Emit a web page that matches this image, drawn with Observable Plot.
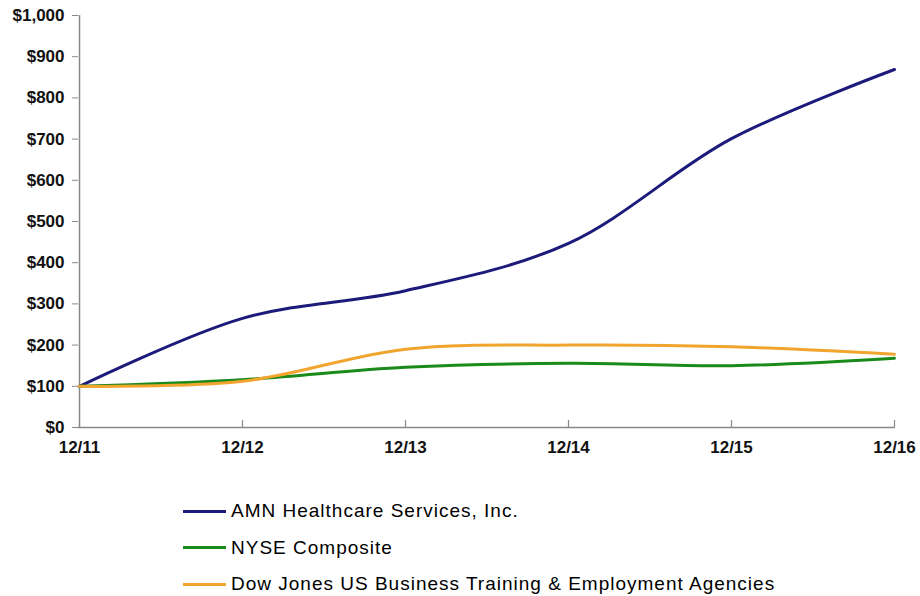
<!DOCTYPE html>
<html><head><meta charset="utf-8">
<script src="https://cdn.jsdelivr.net/npm/d3@7"></script>
<script src="https://cdn.jsdelivr.net/npm/@observablehq/plot@0.6"></script>
<style>
body{margin:0;background:#fff;font-family:"Liberation Sans",Arial,sans-serif;}
#chart svg{display:block;}
#legend{margin-top:28px;margin-left:183px;}
.row{display:flex;align-items:center;height:36.5px;font-size:19px;letter-spacing:1px;color:#000;}
.sw{width:43px;height:3px;margin-right:5px;}
</style></head><body>
<div id="chart"></div>
<div id="legend"></div>
<script>
const periods = ["12/11","12/12","12/13","12/14","12/15","12/16"];
const amn  = [100, 265, 332, 447, 701, 869];
const nyse = [100, 116, 146, 156, 150, 168];
const djus = [100, 112, 190, 200, 196, 178];
const seriesNames = ["AMN Healthcare Services, Inc.", "NYSE Composite", "Dow Jones US Business Training & Employment Agencies"];
const seriesColors = ["#1c1a7a", "#1a8a1a", "#f2a52e"];
const yTicks = d3.range(0, 1001, 100);

const seriesValues = [amn, nyse, djus];
const data = [];
seriesValues.forEach((vals, i) => vals.forEach((v, j) => data.push({series: seriesNames[i], period: periods[j], value: v})));

const chart = Plot.plot({
  width: 920,
  height: 465,
  marginTop: 15,
  marginBottom: 38,
  marginLeft: 78,
  marginRight: 25,
  style: {fontFamily: "'Liberation Sans', Arial, sans-serif", fontSize: "17px", fontWeight: "bold", background: "#fff"},
  x: {type: "point", domain: periods, padding: 0},
  y: {domain: [0, 1000]},
  color: {domain: seriesNames, range: seriesColors},
  marks: [
    Plot.axisY({ticks: yTicks, tickFormat: d => "$" + d3.format(",")(d), tickSize: 6, tickPadding: 8, stroke: "#888", fill: "#111", label: null, fontSize: 17, fontWeight: "bold"}),
    Plot.axisX({tickSize: 0, tickPadding: 13, fill: "#111", label: null, fontSize: 17, fontWeight: "bold"}),
    Plot.ruleX(periods.slice(1), {x: d => d, y1: 0, y2: 17, stroke: "#888", strokeWidth: 1.2}),
    Plot.ruleY([0], {stroke: "#888", strokeWidth: 1.5}),
    Plot.ruleX([periods[0]], {y1: 0, y2: 1000, stroke: "#888", strokeWidth: 1.5}),
    Plot.line(data, {x: "period", y: "value", z: "series", stroke: "series", curve: "catmull-rom", strokeWidth: 3})
  ]
});
document.getElementById("chart").appendChild(chart);

const legend = document.getElementById("legend");
seriesNames.forEach((n, i) => {
  const row = document.createElement("div");
  row.className = "row";
  const sw = document.createElement("div");
  sw.className = "sw";
  sw.style.background = seriesColors[i];
  const t = document.createElement("span");
  t.textContent = n;
  row.appendChild(sw); row.appendChild(t);
  legend.appendChild(row);
});
</script>
</body></html>
